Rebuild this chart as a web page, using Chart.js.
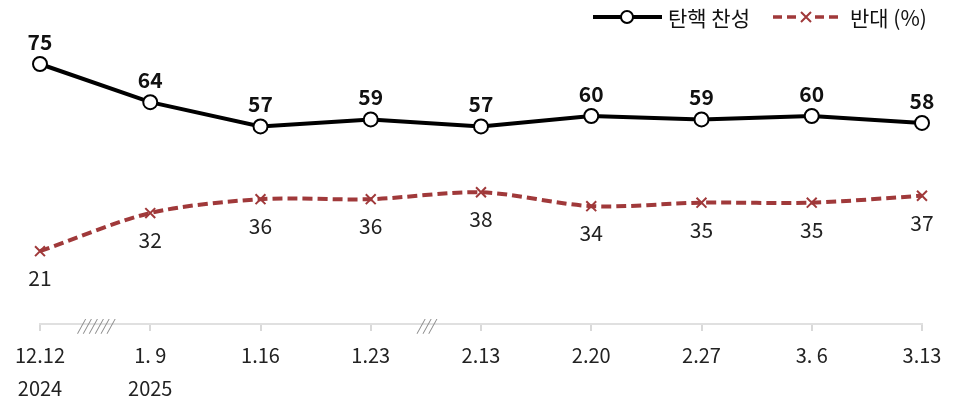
<!DOCTYPE html>
<html>
<head>
<meta charset="utf-8">
<script src="https://cdn.jsdelivr.net/npm/chart.js@4"></script>
<style>
  html, body { margin: 0; padding: 0; background: #fff; }
  #wrap { width: 962px; height: 404px; position: relative; }
</style>
</head>
<body>
<div id="wrap"><canvas id="c"></canvas></div>
<script>
const dates = ['12.12', '1. 9', '1.16', '1.23', '2.13', '2.20', '2.27', '3. 6', '3.13'];
const years = ['2024', '2025', '', '', '', '', '', '', ''];
const favor = [75, 64, 57, 59, 57, 60, 59, 60, 58];
const oppose = [21, 32, 36, 36, 38, 34, 35, 35, 37];
const seriesNames = ['탄핵 찬성', '반대 (%)'];
// axis breaks sit between these category pairs
const breaks = [[0, 1, '//////'], [3, 4, '///']];

const RED = '#a0393a';
const FONT = '"Noto Sans CJK KR", "Noto Sans", sans-serif';

const labels = dates.map((d, i) => [d, years[i]]);

const overlay = {
  id: 'overlay',
  afterDatasetsDraw(chart) {
    const ctx = chart.ctx;
    const x = chart.scales.x;
    ctx.save();
    // value labels
    chart.data.datasets.forEach((ds, di) => {
      chart.getDatasetMeta(di).data.forEach((pt, i) => {
        ctx.textAlign = 'center';
        ctx.textBaseline = 'middle';
        if (di === 0) {
          ctx.font = 'bold 21px ' + FONT;
          ctx.fillStyle = '#111';
          ctx.fillText(ds.data[i], pt.x, pt.y - 22);
        } else {
          ctx.font = '21px ' + FONT;
          ctx.fillStyle = '#222';
          ctx.fillText(ds.data[i], pt.x, pt.y + 27);
        }
      });
    });
    // axis break marks
    ctx.font = 'italic 15px ' + FONT;
    ctx.fillStyle = '#8a8a8a';
    ctx.textAlign = 'center';
    ctx.textBaseline = 'middle';
    breaks.forEach(([a, b, s]) => {
      const mx = (x.getPixelForValue(a) + x.getPixelForValue(b)) / 2;
      ctx.fillText(s, mx, x.top + 1);
    });
    // legend
    const ly = 17;
    ctx.lineWidth = 4;
    ctx.strokeStyle = '#000';
    ctx.setLineDash([]);
    ctx.beginPath(); ctx.moveTo(593, ly); ctx.lineTo(662, ly); ctx.stroke();
    ctx.lineWidth = 2;
    ctx.fillStyle = '#fff';
    ctx.beginPath(); ctx.arc(627, ly, 6, 0, Math.PI * 2); ctx.fill(); ctx.stroke();
    ctx.strokeStyle = RED;
    ctx.lineWidth = 3.5;
    ctx.setLineDash([9, 5]);
    ctx.beginPath(); ctx.moveTo(773, ly); ctx.lineTo(843, ly); ctx.stroke();
    ctx.setLineDash([]);
    ctx.fillStyle = '#fff';
    ctx.fillRect(799, ly - 7, 15, 14);
    ctx.lineWidth = 2;
    ctx.beginPath();
    ctx.moveTo(801, ly - 5); ctx.lineTo(811, ly + 5);
    ctx.moveTo(811, ly - 5); ctx.lineTo(801, ly + 5);
    ctx.stroke();
    ctx.font = '21px ' + FONT;
    ctx.fillStyle = '#111';
    ctx.textAlign = 'left';
    ctx.fillText(seriesNames[0], 668, ly + 1);
    ctx.fillText(seriesNames[1], 850, ly + 1);
    ctx.restore();
  }
};

new Chart(document.getElementById('c'), {
  type: 'line',
  data: {
    labels,
    datasets: [
      {
        label: seriesNames[0], data: favor,
        borderColor: '#000', borderWidth: 4, tension: 0,
        pointStyle: 'circle', pointRadius: 7, pointBorderWidth: 2,
        pointBackgroundColor: '#fff', pointBorderColor: '#000'
      },
      {
        label: seriesNames[1], data: oppose,
        borderColor: RED, borderWidth: 4, borderDash: [10, 5], tension: 0.3,
        pointStyle: 'crossRot', pointRadius: 7, pointBorderWidth: 2,
        pointBorderColor: RED, pointBackgroundColor: RED
      }
    ]
  },
  options: {
    responsive: true,
    maintainAspectRatio: false,
    animation: false,
    layout: { padding: { left: 40, right: 40, top: 12, bottom: -9 } },
    plugins: { legend: { display: false }, tooltip: { enabled: false } },
    scales: {
      x: {
        offset: false,
        grid: { drawOnChartArea: false, drawTicks: true, tickLength: 7, color: '#d9d9d9', lineWidth: 2 },
        border: { color: '#e0e0e0', width: 2 },
        ticks: {
          autoSkip: false, maxRotation: 0, padding: 8,
          color: '#222', font: { family: FONT, size: 20, lineHeight: 1.65 }
        }
      },
      y: { display: false, min: 0, max: 90 }
    }
  },
  plugins: [overlay]
});
</script>
</body>
</html>
